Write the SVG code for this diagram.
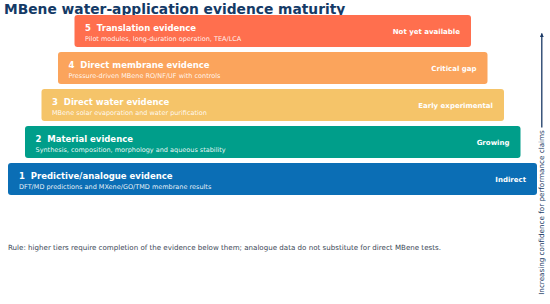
<svg xmlns="http://www.w3.org/2000/svg" width="550" height="304" viewBox="0 0 550 304">
<defs>
<style>
text{font-family:"DejaVu Sans","Liberation Sans",sans-serif;}
.title{font-size:13.8px;font-weight:bold;fill:#143a66;}
.bar{stroke:none;}
.t{font-size:8.5px;font-weight:bold;fill:#ffffff;white-space:pre;}
.s{font-size:6.5px;fill:#ffffff;fill-opacity:0.92;}
.r{font-size:7px;font-weight:bold;fill:#ffffff;text-anchor:end;}
.rule{font-size:7.1px;fill:#3b4756;}
.axis{font-size:7.2px;fill:#1b3a66;}
</style>
<marker id="ah" viewBox="0 0 10 10" refX="9" refY="5" markerWidth="4" markerHeight="4" orient="auto" markerUnits="userSpaceOnUse">
<path d="M0,0 L10,5 L0,10 z" fill="#1b3a66"/>
</marker>
</defs>
<rect width="550" height="304" fill="#ffffff"/>
<text class="title" x="4" y="14">MBene water-application evidence maturity</text>

<g id="tier1">
<rect class="bar" x="8" y="163" width="529" height="32" rx="3" fill="#0b6eb5"/>
<text class="t" x="19" y="178.5" xml:space="preserve">1  Predictive/analogue evidence</text>
<text class="s" x="19" y="189.3">DFT/MD predictions and MXene/GO/TMD membrane results</text>
<text class="r" x="526" y="181.5">Indirect</text>
</g>
<g id="tier2">
<rect class="bar" x="25" y="126" width="495.5" height="32" rx="3" fill="#009e8a"/>
<text class="t" x="35.5" y="141.5" xml:space="preserve">2  Material evidence</text>
<text class="s" x="35.5" y="152.3">Synthesis, composition, morphology and aqueous stability</text>
<text class="r" x="509.5" y="144.5">Growing</text>
</g>
<g id="tier3">
<rect class="bar" x="41.5" y="89" width="462.5" height="32" rx="3" fill="#f5c469"/>
<text class="t" x="52" y="104.5" xml:space="preserve">3  Direct water evidence</text>
<text class="s" x="52" y="115.3">MBene solar evaporation and water purification</text>
<text class="r" x="493" y="107.5">Early experimental</text>
</g>
<g id="tier4">
<rect class="bar" x="58" y="52" width="429.5" height="32" rx="3" fill="#fba45c"/>
<text class="t" x="68.5" y="67.5" xml:space="preserve">4  Direct membrane evidence</text>
<text class="s" x="68.5" y="78.3">Pressure-driven MBene RO/NF/UF with controls</text>
<text class="r" x="476.5" y="70.5">Critical gap</text>
</g>
<g id="tier5">
<rect class="bar" x="74.5" y="15" width="396.5" height="32" rx="3" fill="#ff6f4e"/>
<text class="t" x="85" y="30.5" xml:space="preserve">5  Translation evidence</text>
<text class="s" x="85" y="41.3">Pilot modules, long-duration operation, TEA/LCA</text>
<text class="r" x="460" y="33.5">Not yet available</text>
</g>

<g id="connectors">
<line x1="541.8" y1="127.5" x2="541.8" y2="33.5" stroke="#1b3a66" stroke-width="1.3" marker-end="url(#ah)"/>
</g>
<text class="axis" transform="translate(544.3,212.5) rotate(-90)" text-anchor="middle">Increasing confidence for performance claims</text>

<text class="rule" x="8" y="250">Rule: higher tiers require completion of the evidence below them; analogue data do not substitute for direct MBene tests.</text>
</svg>
